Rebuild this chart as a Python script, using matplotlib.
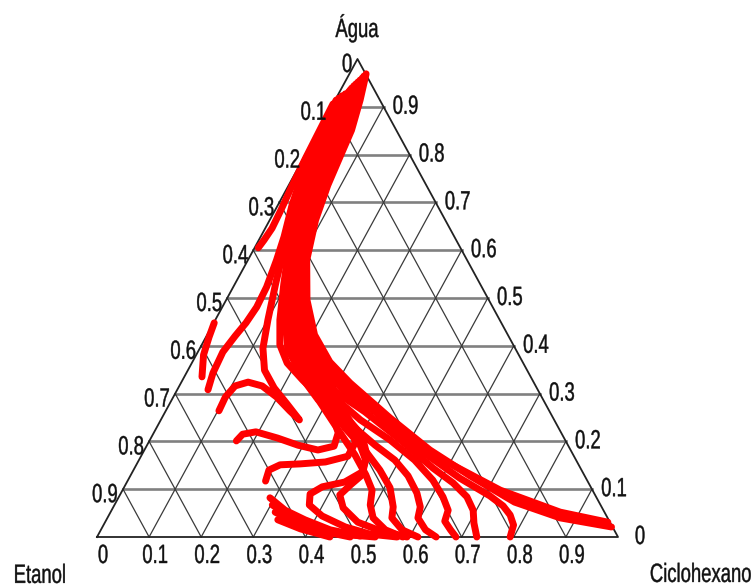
import numpy as np
import matplotlib
matplotlib.use('Agg')
import matplotlib.pyplot as plt
from matplotlib import patheffects
from matplotlib.transforms import Affine2D

# Curvas de residuo: pares (fracao de agua, fracao de ciclohexano)
curva_01 = [(0.969, 0.032), (0.914, 0.048), (0.851, 0.063), (0.793, 0.069), (0.736, 0.075), (0.663, 0.088),
            (0.579, 0.113), (0.496, 0.155), (0.423, 0.206), (0.366, 0.264), (0.322, 0.325), (0.249, 0.438),
            (0.182, 0.548), (0.128, 0.652), (0.073, 0.765), (0.040, 0.869), (0.021, 0.977)]
curva_02 = [(0.964, 0.030), (0.910, 0.044), (0.851, 0.058), (0.793, 0.064), (0.734, 0.071), (0.659, 0.085),
            (0.575, 0.111), (0.492, 0.153), (0.418, 0.202), (0.362, 0.259), (0.316, 0.320), (0.245, 0.431),
            (0.165, 0.575), (0.098, 0.725), (0.052, 0.863), (0.031, 0.965)]
curva_03 = [(0.960, 0.029), (0.906, 0.042), (0.847, 0.054), (0.789, 0.061), (0.730, 0.067), (0.655, 0.084),
            (0.571, 0.109), (0.487, 0.151), (0.416, 0.199), (0.358, 0.253), (0.310, 0.315), (0.262, 0.403),
            (0.182, 0.529), (0.123, 0.635), (0.086, 0.711), (0.065, 0.747), (0.046, 0.770), (0.025, 0.787),
            (0.000, 0.793)]
curva_04 = [(0.956, 0.027), (0.902, 0.038), (0.843, 0.050), (0.785, 0.057), (0.726, 0.063), (0.651, 0.082),
            (0.567, 0.109), (0.483, 0.150), (0.412, 0.195), (0.354, 0.247), (0.303, 0.307), (0.262, 0.383),
            (0.203, 0.481), (0.144, 0.573), (0.113, 0.627), (0.084, 0.668), (0.056, 0.694), (0.029, 0.709),
            (0.000, 0.729)]
curva_05 = [(0.952, 0.025), (0.897, 0.037), (0.839, 0.046), (0.780, 0.053), (0.722, 0.059), (0.646, 0.080),
            (0.563, 0.107), (0.479, 0.148), (0.408, 0.193), (0.349, 0.243), (0.297, 0.302), (0.245, 0.383),
            (0.203, 0.461), (0.161, 0.529), (0.119, 0.585), (0.084, 0.622), (0.056, 0.646), (0.033, 0.651),
            (0.015, 0.671), (0.000, 0.689)]
curva_06 = [(0.948, 0.023), (0.893, 0.033), (0.835, 0.044), (0.776, 0.050), (0.718, 0.056), (0.642, 0.078),
            (0.559, 0.105), (0.475, 0.147), (0.404, 0.191), (0.345, 0.240), (0.291, 0.298), (0.234, 0.372),
            (0.192, 0.438), (0.161, 0.491), (0.128, 0.533), (0.092, 0.568), (0.063, 0.589), (0.040, 0.596),
            (0.015, 0.623), (0.000, 0.651)]
curva_07 = [(0.944, 0.021), (0.889, 0.031), (0.831, 0.040), (0.772, 0.046), (0.713, 0.054), (0.638, 0.076),
            (0.554, 0.103), (0.471, 0.145), (0.400, 0.190), (0.341, 0.236), (0.287, 0.293), (0.228, 0.362),
            (0.182, 0.423), (0.140, 0.473), (0.103, 0.511), (0.063, 0.537), (0.040, 0.546), (0.015, 0.578),
            (0.000, 0.616)]
curva_08 = [(0.939, 0.019), (0.885, 0.028), (0.826, 0.036), (0.768, 0.042), (0.709, 0.052), (0.634, 0.075),
            (0.550, 0.101), (0.467, 0.143), (0.395, 0.186), (0.337, 0.233), (0.282, 0.287), (0.224, 0.351),
            (0.172, 0.409), (0.130, 0.451), (0.098, 0.479), (0.067, 0.491), (0.040, 0.510), (0.015, 0.546),
            (0.000, 0.587)]
curva_09 = [(0.935, 0.018), (0.881, 0.024), (0.822, 0.032), (0.764, 0.038), (0.705, 0.048), (0.630, 0.073),
            (0.546, 0.099), (0.462, 0.139), (0.391, 0.182), (0.333, 0.227), (0.287, 0.281), (0.245, 0.344),
            (0.203, 0.400), (0.161, 0.435), (0.130, 0.444), (0.109, 0.432), (0.088, 0.422), (0.061, 0.442),
            (0.031, 0.485), (0.013, 0.537), (0.000, 0.595)]
curva_10 = [(0.931, 0.017), (0.877, 0.021), (0.818, 0.029), (0.759, 0.035), (0.701, 0.045), (0.626, 0.071),
            (0.542, 0.098), (0.458, 0.138), (0.387, 0.178), (0.339, 0.221), (0.297, 0.279), (0.255, 0.348),
            (0.213, 0.402), (0.172, 0.432), (0.136, 0.441), (0.115, 0.418), (0.105, 0.380), (0.090, 0.364),
            (0.067, 0.374), (0.044, 0.410), (0.021, 0.466), (0.006, 0.521), (0.000, 0.576)]
curva_11 = [(0.927, 0.013), (0.872, 0.017), (0.814, 0.023), (0.755, 0.029), (0.697, 0.040), (0.621, 0.065),
            (0.538, 0.096), (0.454, 0.134), (0.391, 0.171), (0.354, 0.209), (0.316, 0.270), (0.278, 0.327),
            (0.236, 0.371), (0.197, 0.397), (0.169, 0.397), (0.157, 0.360), (0.153, 0.314), (0.151, 0.276),
            (0.140, 0.260), (0.117, 0.265)]
curva_12 = [(0.923, 0.009), (0.868, 0.013), (0.810, 0.019), (0.751, 0.025), (0.692, 0.036), (0.613, 0.063),
            (0.529, 0.094), (0.454, 0.124), (0.402, 0.150), (0.364, 0.183), (0.328, 0.231), (0.293, 0.282),
            (0.253, 0.326), (0.218, 0.354), (0.190, 0.360), (0.182, 0.333), (0.192, 0.290), (0.207, 0.243),
            (0.220, 0.195), (0.215, 0.172), (0.201, 0.167)]
curva_13 = [(0.918, 0.005), (0.864, 0.009), (0.805, 0.015), (0.747, 0.022), (0.688, 0.032), (0.613, 0.055),
            (0.533, 0.077), (0.454, 0.101), (0.395, 0.121), (0.349, 0.147), (0.312, 0.184), (0.278, 0.226),
            (0.245, 0.266), (0.264, 0.238), (0.293, 0.198), (0.316, 0.159), (0.324, 0.128), (0.316, 0.107),
            (0.293, 0.100), (0.264, 0.102)]
curva_14 = [(0.914, 0.002), (0.860, 0.006), (0.801, 0.010), (0.747, 0.017), (0.695, 0.027), (0.628, 0.045),
            (0.579, 0.055), (0.523, 0.064), (0.481, 0.066), (0.448, 0.062), (0.421, 0.055), (0.387, 0.048),
            (0.343, 0.051), (0.308, 0.059)]
curva_15 = [(0.448, 0.001), (0.418, 0.006), (0.381, 0.014), (0.335, 0.034)]
curva_16 = [(0.906, 0.000), (0.851, 0.002), (0.793, 0.004), (0.734, 0.007), (0.684, 0.011), (0.646, 0.013),
            (0.621, 0.010), (0.605, 0.007)]
curva_17 = [(0.082, 0.291), (0.056, 0.333), (0.036, 0.381), (0.015, 0.440), (0.002, 0.504)]
curva_18 = [(0.067, 0.303), (0.044, 0.348), (0.023, 0.397), (0.006, 0.463), (0.000, 0.534)]
curva_19 = [(0.052, 0.316), (0.031, 0.364), (0.013, 0.422), (0.000, 0.486)]
curva_20 = [(0.036, 0.329), (0.017, 0.382), (0.000, 0.447)]

curvas = [curva_01, curva_02, curva_03, curva_04, curva_05, curva_06, curva_07, curva_08, curva_09, curva_10,
          curva_11, curva_12, curva_13, curva_14, curva_15, curva_16, curva_17, curva_18, curva_19, curva_20]

niveis = [0.1, 0.2, 0.3, 0.4, 0.5, 0.6, 0.7, 0.8, 0.9]
rotulos = ['0', '0.1', '0.2', '0.3', '0.4', '0.5', '0.6', '0.7', '0.8', '0.9']

FONTE = ['Liberation Sans', 'DejaVu Sans']
TAM = 19
COR_TXT = '#111111'


class Estreito(patheffects.AbstractPathEffect):
    """Desenha o texto comprimido na horizontal (fonte estreita), com traco leve."""

    def __init__(self, sx=0.7, ancora='center', lw=0.3):
        super().__init__()
        self.sx = sx
        self.ancora = ancora
        self.lw = lw

    def draw_path(self, renderer, gc, tpath, affine, rgbFace=None):
        ext = tpath.get_extents(affine)
        if self.ancora == 'left':
            x0 = ext.x0
        elif self.ancora == 'right':
            x0 = ext.x1
        else:
            x0 = (ext.x0 + ext.x1) / 2
        t = affine + Affine2D().translate(-x0, 0).scale(self.sx, 1).translate(x0, 0)
        gc0 = renderer.new_gc()
        gc0.copy_properties(gc)
        gc0.set_linewidth(self.lw)
        if rgbFace is not None:
            gc0.set_foreground(rgbFace)
        renderer.draw_path(gc0, tpath, t, rgbFace)
        gc0.restore()


def ternario(agua, ciclo):
    # coordenadas no plano: Etanol embaixo a esquerda, Ciclohexano a direita, Agua no topo
    agua = np.asarray(agua, dtype=float)
    ciclo = np.asarray(ciclo, dtype=float)
    return ciclo + agua / 2.0, agua


fig = plt.figure(figsize=(7.54, 5.87), dpi=100)
ax = fig.add_axes([0, 0, 1, 1])
ax.set_xlim(-97 / 521, (754 - 97) / 521)
ax.set_ylim(-50 / 478, (587 - 50) / 478)
ax.axis('off')

# linhas de grade: agua constante (horizontais)
for v in niveis:
    x, y = ternario([v, v], [0, 1 - v])
    ax.plot(x, y, color='#808080', lw=1.9, zorder=1)
# ciclohexano constante
for v in niveis:
    x, y = ternario([0, 1 - v], [v, v])
    ax.plot(x, y, color='#3a3a3a', lw=0.9, zorder=1)
# etanol constante
for v in niveis:
    x, y = ternario([0, 1 - v], [1 - v, 0])
    ax.plot(x, y, color='#3a3a3a', lw=0.9, zorder=1)

# contorno do triangulo
x, y = ternario([0, 0, 1, 0], [0, 1, 0, 0])
ax.plot(x, y, color='#222222', lw=1.3, zorder=2)

# curvas
for c in curvas:
    x, y = ternario([p[0] for p in c], [p[1] for p in c])
    ax.plot(x, y, color='#ff0000', lw=5.0, solid_capstyle='round', solid_joinstyle='round', zorder=3)

# rotulos dos eixos
for i, r in enumerate(rotulos):
    v = i / 10
    # Etanol (lado esquerdo)
    x, y = ternario(1 - v, 0)
    ax.annotate(r, (x, y), xytext=(-5, -13), textcoords='offset pixels', ha='right', va='baseline',
                fontsize=TAM, family=FONTE, color=COR_TXT, path_effects=[Estreito(0.7, 'right')])
    # Agua (lado direito)
    x, y = ternario(v, 1 - v)
    ax.annotate(r, (x, y), xytext=(22, -7), textcoords='offset pixels', ha='center', va='baseline',
                fontsize=TAM, family=FONTE, color=COR_TXT, path_effects=[Estreito(0.7)])
    # Ciclohexano (base)
    x, y = ternario(0, v)
    ax.annotate(r, (x, y), xytext=(6, -26), textcoords='offset pixels', ha='center', va='baseline',
                fontsize=TAM, family=FONTE, color=COR_TXT, path_effects=[Estreito(0.7)])

# nomes dos componentes nos vertices
ax.text(0.499, 1.046, 'Água', ha='center', va='baseline', fontsize=TAM, family=FONTE, color=COR_TXT,
        path_effects=[Estreito(0.7)])
ax.text((13 - 97) / 521, -0.096, 'Etanol', ha='left', va='baseline', fontsize=TAM, family=FONTE,
        color=COR_TXT, path_effects=[Estreito(0.7, 'left')])
ax.text((752 - 97) / 521, -0.094, 'Ciclohexano', ha='right', va='baseline', fontsize=TAM, family=FONTE,
        color=COR_TXT, path_effects=[Estreito(0.7, 'right')])

fig.savefig('out.png', dpi=100)
